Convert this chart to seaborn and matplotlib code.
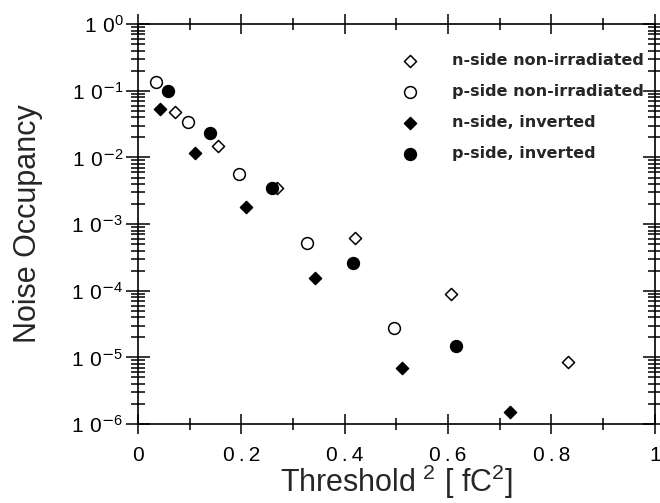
import numpy as np
import pandas as pd
import matplotlib
matplotlib.use("Agg")
import matplotlib.pyplot as plt
import seaborn as sns
from matplotlib.ticker import LogLocator, FixedLocator, MultipleLocator, NullFormatter

# ---- data ----
n_nonirr_x = [0.072, 0.155, 0.269, 0.420, 0.605, 0.832]
n_nonirr_y = [0.048, 0.0148, 0.0035, 6.2e-4, 8.9e-5, 8.5e-6]

p_nonirr_x = [0.035, 0.097, 0.196, 0.327, 0.495]
p_nonirr_y = [0.135, 0.034, 0.0056, 5.2e-4, 2.8e-5]

n_inv_x = [0.043, 0.110, 0.209, 0.342, 0.511, 0.720]
n_inv_y = [0.053, 0.0116, 0.0018, 1.55e-4, 6.9e-6, 1.5e-6]

p_inv_x = [0.058, 0.139, 0.259, 0.416, 0.615]
p_inv_y = [0.099, 0.023, 0.0035, 2.6e-4, 1.5e-5]

labels = ["n-side non-irradiated", "p-side non-irradiated",
          "n-side, inverted", "p-side, inverted"]
x_ticks = [0, 0.2, 0.4, 0.6, 0.8, 1]
x_ticklabels = ["0", "0.2", "0.4", "0.6", "0.8", "1"]
y_exps = [0, -1, -2, -3, -4, -5, -6]

sns.set_style("ticks")
plt.rcParams['font.family'] = ['Liberation Sans', 'DejaVu Sans']
plt.rcParams['mathtext.default'] = 'regular'

fig = plt.figure(figsize=(6.6, 5.03), dpi=100)
ax = fig.add_axes([0.209, 0.157, 0.783, 0.795])

series = [
    (n_nonirr_x, n_nonirr_y, 'D', 'white', 38),
    (p_nonirr_x, p_nonirr_y, 'o', 'white', 72),
    (n_inv_x, n_inv_y, 'D', 'black', 38),
    (p_inv_x, p_inv_y, 'o', 'black', 72),
]
for (xs, ys, m, fc, s), lab in zip(series, labels):
    df = pd.DataFrame({'x': xs, 'y': ys})
    sns.scatterplot(data=df, x='x', y='y', marker=m, s=s, facecolor=fc,
                    edgecolor='black', linewidth=1.1, ax=ax, label=lab, zorder=3)

ax.set_yscale('log')
ax.set_xlim(0, 1)
ax.set_ylim(1e-6, 1)

ax.xaxis.set_major_locator(FixedLocator(x_ticks))
ax.set_xticklabels([t.replace('.', '\u2009.\u2009') for t in x_ticklabels])
ax.xaxis.set_minor_locator(MultipleLocator(0.1))
ax.set_yticks([10.0**e for e in y_exps])
ax.set_yticklabels([r'$1\ 0^{%d}$' % e if e == 0 else r'$1\ 0^{\mathsf{-}%d}$' % (-e) for e in y_exps])
ax.yaxis.set_minor_locator(LogLocator(base=10, subs=np.arange(2, 10), numticks=20))
ax.yaxis.set_minor_formatter(NullFormatter())

for sp in ax.spines.values():
    sp.set_visible(True)
    sp.set_linewidth(1.2)
    sp.set_color('black')

ax.tick_params(axis='both', which='both', direction='inout', top=True, right=True,
               colors='black', width=1.1)
ax.tick_params(axis='x', which='major', length=14, labelsize=15, pad=8.5)
ax.tick_params(axis='x', which='minor', length=9)
ax.tick_params(axis='y', which='major', length=17, labelsize=15, pad=2)
ax.tick_params(axis='y', which='minor', length=10)

ax.set_xlabel(r'Threshold$^{\ 2}$ [ fC$^{2}$]', fontsize=22, labelpad=-1)
ax.set_ylabel('Noise Occupancy', fontsize=22, labelpad=20)

leg = ax.legend(loc='upper right', bbox_to_anchor=(1.0, 0.955), frameon=False,
                prop={'family': 'DejaVu Sans', 'weight': 'bold', 'size': 11.5},
                handletextpad=1.6, labelspacing=1.0, borderaxespad=0.3,
                markerscale=1.0)

fig.savefig('out.png', dpi=100)
